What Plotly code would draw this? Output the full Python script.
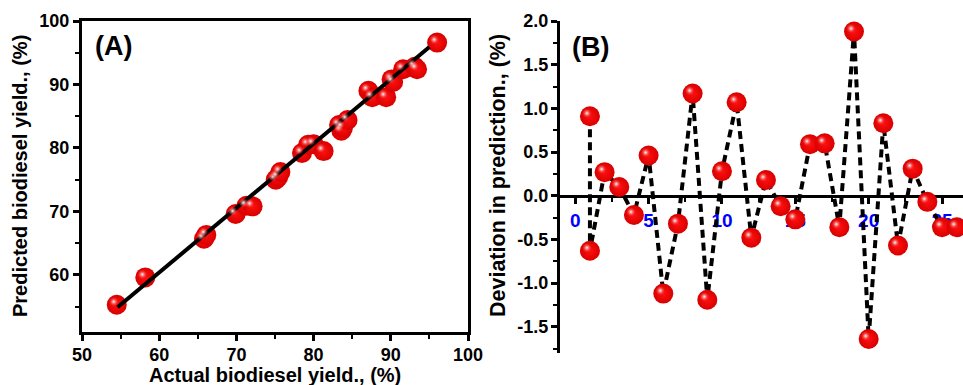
import plotly.graph_objects as go

# ---------------- data ----------------
# Panel A: actual vs predicted biodiesel yield (%)
actual_yield = [54.5, 58.2, 65.8, 66.1, 69.9, 71.3, 72.1, 75.1, 75.4, 75.7,
                78.5, 79.3, 80.0, 81.3, 83.3, 83.6, 83.8, 84.4, 87.1, 87.6,
                89.4, 90.1, 90.3, 91.6, 93.1, 93.4, 96.0]
predicted_yield = [55.3, 59.6, 65.7, 66.3, 69.6, 70.9, 70.8, 75.0, 75.4, 76.2,
                   79.2, 80.5, 80.6, 79.5, 83.6, 82.7, 83.2, 84.4, 89.0, 88.0,
                   88.0, 90.8, 90.4, 92.4, 92.8, 92.4, 96.6]
fit_x = [54.6, 95.0]
fit_y = [54.9, 95.9]

# Panel B: deviation in prediction (%) by run
run_no = [1, 1, 2, 3, 4, 5, 6, 7, 8, 9, 10, 11, 12, 13, 14, 15, 16, 17, 18,
          19, 20, 21, 22, 23, 24, 25, 26]
deviation = [0.91, -0.63, 0.27, 0.10, -0.22, 0.46, -1.12, -0.32, 1.17, -1.19,
             0.28, 1.07, -0.48, 0.18, -0.12, -0.27, 0.59, 0.60, -0.36, 1.88,
             -1.64, 0.83, -0.57, 0.31, -0.07, -0.36, -0.36]

a_xticks = [50, 60, 70, 80, 90, 100]
a_yticks = [60, 70, 80, 90, 100]
b_xticks = [0, 5, 10, 15, 20, 25]
b_yticks = [-1.5, -1.0, -0.5, 0.0, 0.5, 1.0, 1.5, 2.0]
b_yticklabels = ["-1.5", "-1.0", "-0.5", "0.0", "0.5", "1.0", "1.5", "2.0"]

# ---------------- layout geometry ----------------
W, H = 963, 385
FONT = "Arial, 'Liberation Sans', sans-serif"

# panel A plot area in px
aL, aR, aT, aB = 82, 468, 21, 332
# panel B plot area in px
bL, bR, bT, bB = 560, 963, 21, 353

a_xr = [50, 100]
a_yr = [51, 100]
b_xr = [-1.04, 26.43]
b_yr = [-1.8, 2.0]

def xdom(l, r):
    return [l / W, r / W]

def ydom(t, b):
    return [1 - b / H, 1 - t / H]

a_xd, a_yd = xdom(aL, aR), ydom(aT, aB)
b_xd, b_yd = xdom(bL, bR), ydom(bT, bB)

# highlight offset (px) for sphere shading: left & up
OFF = 3.0
def shift_x(r, wpx):
    d = OFF * (r[1] - r[0]) / wpx
    return [r[0] + d, r[1] + d]

def shift_y(r, hpx):
    d = OFF * (r[1] - r[0]) / hpx
    return [r[0] - d, r[1] - d]

RED_OUT = "#d80000"
RED_IN = "#ff1010"

fig = go.Figure()

# ---- Panel A ----
fig.add_trace(go.Scatter(
    x=actual_yield, y=predicted_yield, mode="markers",
    marker=dict(size=20, color=RED_OUT, line=dict(width=0),
                gradient=dict(type="radial", color=RED_IN)),
    xaxis="x", yaxis="y", showlegend=False, hoverinfo="skip"))
fig.add_trace(go.Scatter(
    x=actual_yield, y=predicted_yield, mode="markers",
    marker=dict(size=10, color="rgba(255,30,30,0)", line=dict(width=0),
                gradient=dict(type="radial", color="white")),
    xaxis="x3", yaxis="y3", showlegend=False, hoverinfo="skip"))
fig.add_trace(go.Scatter(
    x=fit_x, y=fit_y, mode="lines",
    line=dict(color="black", width=4),
    xaxis="x", yaxis="y", showlegend=False, hoverinfo="skip"))

# ---- Panel B ----
fig.add_trace(go.Scatter(
    x=run_no, y=deviation, mode="lines",
    line=dict(color="black", width=4, dash="8px,5px"),
    xaxis="x2", yaxis="y2", showlegend=False, hoverinfo="skip"))
fig.add_trace(go.Scatter(
    x=run_no, y=deviation, mode="markers",
    marker=dict(size=20, color=RED_OUT, line=dict(width=0),
                gradient=dict(type="radial", color=RED_IN)),
    xaxis="x2", yaxis="y2", showlegend=False, hoverinfo="skip"))
fig.add_trace(go.Scatter(
    x=run_no, y=deviation, mode="markers",
    marker=dict(size=10, color="rgba(255,30,30,0)", line=dict(width=0),
                gradient=dict(type="radial", color="white")),
    xaxis="x4", yaxis="y4", showlegend=False, hoverinfo="skip"))

tickfontA = dict(family=FONT, size=18, color="black", weight="bold")
tickfontB = dict(family=FONT, size=18, color="black", weight="bold")
tickfontBx = dict(family=FONT, size=19, color="#0000ff", weight="bold")

zero_pos = b_yd[0] + (0 - b_yr[0]) / (b_yr[1] - b_yr[0]) * (b_yd[1] - b_yd[0])

hidden = dict(visible=False, showgrid=False, zeroline=False, automargin=False)

fig.update_layout(
    template="none",
    width=W, height=H,
    margin=dict(l=0, r=0, t=0, b=0, pad=0, autoexpand=False),
    paper_bgcolor="white", plot_bgcolor="white",
    xaxis=dict(domain=a_xd, range=a_xr, anchor="y", automargin=False,
               tickvals=a_xticks, ticks="outside", ticklen=6, tickwidth=3,
               tickcolor="black",
               minor=dict(dtick=5, tick0=50, ticks="outside", ticklen=4,
                          tickwidth=2, tickcolor="black", showgrid=False),
               showline=True, linewidth=3, linecolor="black", mirror=True,
               showgrid=False, zeroline=False, tickfont=tickfontA,
               ticklabelstandoff=-2, layer="below traces"),
    yaxis=dict(domain=a_yd, range=a_yr, anchor="x", automargin=False,
               tickvals=a_yticks, ticks="outside", ticklen=6, tickwidth=3,
               tickcolor="black",
               minor=dict(dtick=5, tick0=50, ticks="outside", ticklen=4,
                          tickwidth=2, tickcolor="black", showgrid=False),
               showline=True, linewidth=3, linecolor="black", mirror=True,
               showgrid=False, zeroline=False, tickfont=tickfontA,
               layer="below traces"),
    xaxis3=dict(domain=a_xd, range=shift_x(a_xr, aR - aL), overlaying="x",
                anchor="y3", **hidden),
    yaxis3=dict(domain=a_yd, range=shift_y(a_yr, aB - aT), overlaying="y",
                anchor="x3", **hidden),
    xaxis2=dict(domain=b_xd, range=b_xr, anchor="free", position=zero_pos,
                automargin=False,
                tickvals=b_xticks, ticks="outside", ticklen=6, tickwidth=3,
                tickcolor="black",
                minor=dict(dtick=2.5, tick0=0, ticks="outside", ticklen=4,
                           tickwidth=2, tickcolor="black", showgrid=False),
                showline=True, linewidth=3, linecolor="black",
                showgrid=False, zeroline=False, tickfont=tickfontBx,
                layer="below traces"),
    yaxis2=dict(domain=b_yd, range=b_yr, anchor="x2", automargin=False,
                tickvals=b_yticks, ticktext=b_yticklabels,
                ticks="outside", ticklen=6, tickwidth=3, tickcolor="black",
                minor=dict(dtick=0.25, tick0=0, ticks="outside", ticklen=4,
                           tickwidth=2, tickcolor="black", showgrid=False),
                showline=True, linewidth=3, linecolor="black",
                showgrid=False, zeroline=False, tickfont=tickfontB,
                ticklabelstandoff=-1,
                layer="below traces"),
    xaxis4=dict(domain=b_xd, range=shift_x(b_xr, bR - bL), overlaying="x2",
                anchor="y4", **hidden),
    yaxis4=dict(domain=b_yd, range=shift_y(b_yr, bB - bT), overlaying="y2",
                anchor="x4", **hidden),
)

titlefontA = dict(family=FONT, size=20, color="black", weight="bold")
titlefontB = dict(family=FONT, size=21.5, color="black", weight="bold")
labelfont = dict(family=FONT, size=27, color="black", weight="bold")
fig.add_annotation(text="Actual biodiesel yield., (%)", xref="paper", yref="paper",
                   x=275 / W, y=1 - 375 / H, showarrow=False, font=titlefontA,
                   xanchor="center", yanchor="middle")
fig.add_annotation(text="Predicted biodiesel yield., (%)", xref="paper", yref="paper",
                   x=20 / W, y=1 - 176 / H, showarrow=False, font=titlefontA,
                   textangle=-90, xanchor="center", yanchor="middle")
fig.add_annotation(text="Deviation in prediction., (%)", xref="paper", yref="paper",
                   x=498 / W, y=1 - 175 / H, showarrow=False, font=titlefontB,
                   textangle=-90, xanchor="center", yanchor="middle")
fig.add_annotation(text="(A)", xref="paper", yref="paper",
                   x=113 / W, y=1 - 46 / H, showarrow=False, font=labelfont,
                   xanchor="center", yanchor="middle")
fig.add_annotation(text="(B)", xref="paper", yref="paper",
                   x=590 / W, y=1 - 47 / H, showarrow=False, font=labelfont,
                   xanchor="center", yanchor="middle")

fig.write_html("out.html")
